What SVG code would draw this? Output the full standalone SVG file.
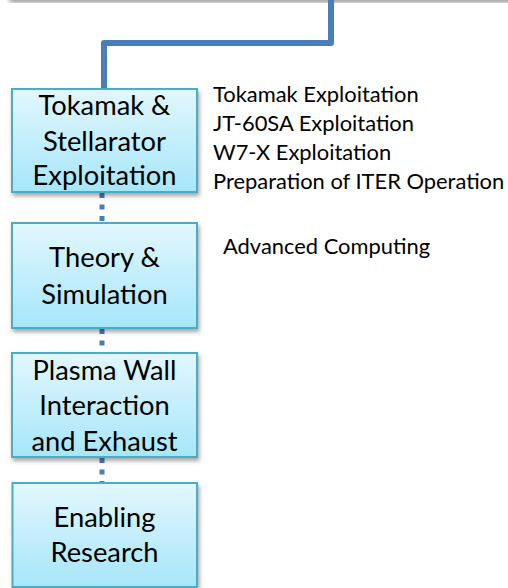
<svg xmlns="http://www.w3.org/2000/svg" width="508" height="588" viewBox="0 0 508 588">
  <defs>
    <linearGradient id="boxFill" x1="0" y1="0" x2="0" y2="1">
      <stop offset="0" stop-color="#e2f7fd"/>
      <stop offset="1" stop-color="#a6e6fa"/>
    </linearGradient>
    <filter id="shadow" x="-10%" y="-10%" width="125%" height="130%">
      <feDropShadow dx="1.5" dy="3" stdDeviation="2" flood-color="#000" flood-opacity="0.35"/>
    </filter>
    <style>
      .box { fill: url(#boxFill); stroke: #4bacc6; stroke-width: 2; filter: url(#shadow); }
      .lbl { font-family: Lato, "Liberation Sans", sans-serif; font-size: 27.3px; fill: #000; text-anchor: middle; }
      .side { font-family: Lato, "Liberation Sans", sans-serif; font-size: 21.9px; fill: #000; }
      .solid { fill: none; stroke: #4a7ebb; stroke-width: 6; stroke-linejoin: round; }
      .dotted { fill: none; stroke: #4a7ebb; stroke-width: 5; stroke-dasharray: 5 6.5; }
    </style>
  </defs>

  <rect x="8" y="-12" width="520" height="12" fill="#ffffff" filter="url(#shadow)"/>

  <g id="connectors">
    <path class="solid" d="M331 0 V43 H104 V89"/>
    <line class="dotted" x1="102" y1="193" x2="102" y2="222"/>
    <line class="dotted" x1="102" y1="329" x2="102" y2="352"/>
    <line class="dotted" x1="102" y1="458" x2="102" y2="482"/>
  </g>

  <g id="node-tokamak">
    <rect class="box" x="12" y="89" width="185" height="103"/>
    <text class="lbl" x="104.5" y="115">Tokamak &amp;</text>
    <text class="lbl" x="104.5" y="150.5">Stellarator</text>
    <text class="lbl" x="104.5" y="185">Exploitation</text>
  </g>

  <g id="node-theory">
    <rect class="box" x="12" y="223" width="185" height="105"/>
    <text class="lbl" x="104.5" y="267">Theory &amp;</text>
    <text class="lbl" x="104.5" y="304">Simulation</text>
  </g>

  <g id="node-pwi">
    <rect class="box" x="12" y="353" width="185" height="104"/>
    <text class="lbl" x="104.5" y="379.5">Plasma Wall</text>
    <text class="lbl" x="104.5" y="415">Interaction</text>
    <text class="lbl" x="104.5" y="450.5">and Exhaust</text>
  </g>

  <g id="node-enabling">
    <rect class="box" x="12.5" y="483" width="184.5" height="104"/>
    <text class="lbl" x="104.5" y="526.5">Enabling</text>
    <text class="lbl" x="104.5" y="561.5">Research</text>
  </g>

  <g id="side-text">
    <text class="side" x="213" y="101.5">Tokamak Exploitation</text>
    <text class="side" x="213" y="130.5">JT-60SA Exploitation</text>
    <text class="side" x="213" y="159.5">W7-X Exploitation</text>
    <text class="side" x="213" y="188.5">Preparation of ITER Operation</text>
    <text class="side" x="223" y="254">Advanced Computing</text>
  </g>
</svg>
